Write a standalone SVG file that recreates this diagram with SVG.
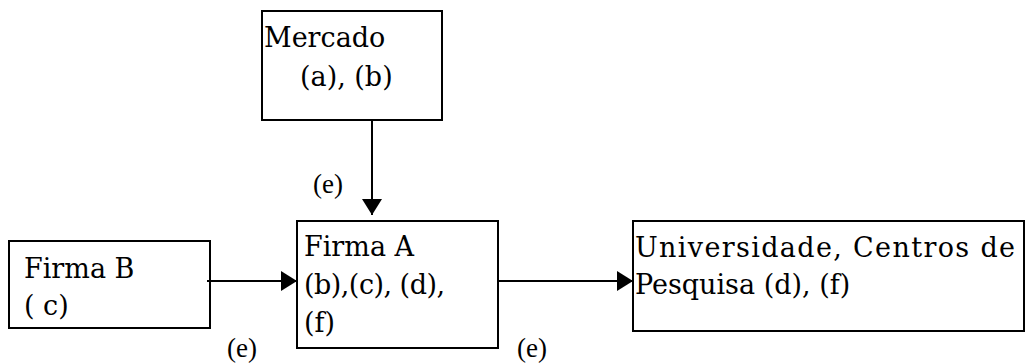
<svg xmlns="http://www.w3.org/2000/svg" width="1026" height="364" viewBox="0 0 1026 364">
<style>
.box{fill:#fff;stroke:#000;stroke-width:2}
.t{font-family:"DejaVu Serif",serif;font-size:27px;fill:#000}
.e{font-family:"Liberation Serif",serif;font-size:27px;fill:#000}
.c{stroke:#000;stroke-width:2;fill:none}
</style>
<defs>
<marker id="ah" markerWidth="9" markerHeight="10" refX="8" refY="5" orient="auto" markerUnits="strokeWidth">
<path d="M0,0 L8,5 L0,10 Z" fill="#000"/>
</marker>
</defs>
<rect width="1026" height="364" fill="#fff"/>
<g id="mercado">
<rect class="box" x="262" y="11" width="180" height="109"/>
<text class="t" x="264" y="47">Mercado</text>
<text class="t" x="300" y="86">(a), (b)</text>
</g>
<g id="firmaA">
<rect class="box" x="297" y="221" width="201" height="127"/>
<text class="t" x="304" y="256">Firma A</text>
<text class="t" x="304" y="294" textLength="141" lengthAdjust="spacing">(b),(c), (d),</text>
<text class="t" x="304" y="332">(f)</text>
</g>
<g id="firmaB">
<rect class="box" x="9" y="241" width="201" height="87"/>
<text class="t" x="24" y="278">Firma B</text>
<text class="t" x="24" y="315">( c)</text>
</g>
<g id="univ">
<rect class="box" x="633" y="221" width="391" height="110"/>
<text class="t" x="635" y="257" textLength="380" lengthAdjust="spacing">Universidade, Centros de</text>
<text class="t" x="635" y="294">Pesquisa (d), (f)</text>
</g>
<g id="connectors">
<line class="c" x1="372" y1="120" x2="372" y2="215" marker-end="url(#ah)"/>
<line class="c" x1="207" y1="281" x2="297" y2="281" marker-end="url(#ah)"/>
<line class="c" x1="497" y1="281" x2="633" y2="281" marker-end="url(#ah)"/>
<text class="e" x="313" y="193">(e)</text>
<text class="e" x="227" y="357">(e)</text>
<text class="e" x="517" y="357">(e)</text>
</g>
</svg>
